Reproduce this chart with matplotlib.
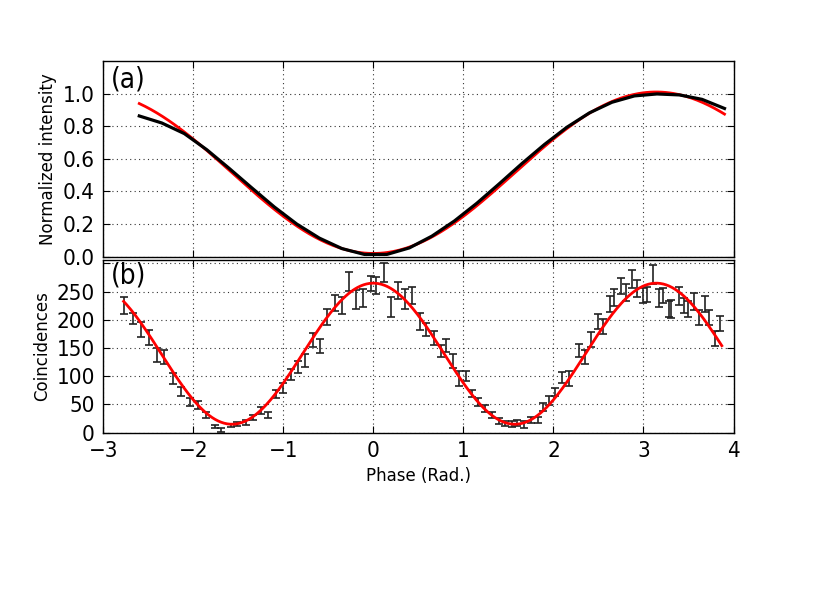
import numpy as np
import matplotlib
matplotlib.use('Agg')
from matplotlib import pyplot as plt

# (a) measured intensity (black) and model (red)
phase_a = [-2.6, -2.35, -2.1, -1.85, -1.6, -1.35, -1.1, -0.85, -0.6, -0.35, -0.1,
           0.15, 0.4, 0.65, 0.9, 1.15, 1.4, 1.65, 1.9, 2.15, 2.4, 2.65, 2.9, 3.15,
           3.4, 3.65, 3.9]
intensity = [0.863, 0.820, 0.755, 0.656, 0.541, 0.422, 0.305, 0.200, 0.114, 0.050,
             0.014, 0.014, 0.054, 0.126, 0.219, 0.328, 0.448, 0.571, 0.688, 0.794,
             0.882, 0.947, 0.986, 0.998, 0.992, 0.965, 0.909]
model_offset, model_amp = 0.02, 0.99

# (b) coincidence counts with error bars
phase_b = [-2.774, -2.667, -2.58, -2.49, -2.40, -2.32, -2.22, -2.14, -2.04, -1.95,
           -1.86, -1.76, -1.69, -1.58, -1.51, -1.41, -1.34, -1.25, -1.165, -1.084,
           -1.0, -0.92, -0.84, -0.755, -0.674, -0.593, -0.51, -0.425, -0.35, -0.27,
           -0.194, -0.11, -0.03, 0.033, 0.117, 0.198, 0.278, 0.352, 0.425, 0.516,
           0.587, 0.673, 0.747, 0.803, 0.885, 0.952, 1.026, 1.10, 1.167, 1.24,
           1.316, 1.39, 1.465, 1.54, 1.60, 1.677, 1.75, 1.825, 1.888, 1.955,
           2.022, 2.097, 2.17, 2.285, 2.35, 2.42, 2.49, 2.556, 2.626, 2.674,
           2.748, 2.804, 2.87, 2.933, 2.99, 3.04, 3.11, 3.175, 3.22, 3.28,
           3.31, 3.39, 3.445, 3.50, 3.56, 3.62, 3.68, 3.73, 3.79, 3.85]
counts = [226, 202, 183, 168, 138, 134, 96, 73, 55, 49,
          32, 11, 5, 13, 15, 18, 27, 40, 31.5, 69,
          80, 103, 116, 128, 164, 154, 205, 230, 225.5, 268,
          235.6, 239, 265, 260.6, 284, 222.5, 251.6, 237, 243, 197,
          183, 168, 145, 155, 127, 96, 101, 69.6, 55, 43,
          31, 21, 16, 15.5, 17, 14, 22, 22.6, 46, 57,
          72, 98, 96, 146, 134, 165, 197, 188, 228, 240,
          260, 249, 272, 255, 243, 245, 281, 239, 243, 219,
          219, 242, 225, 220, 232, 204, 228, 204.6, 167, 193]
errors = [14.9, 9.5, 13.1, 13.4, 12.5, 11.9, 9.2, 8.0, 7.1, 7.1,
          5.4, 3, 3, 3, 3.9, 4.2, 4.5, 6, 4.8, 7.4,
          8.9, 9.8, 10.7, 10.7, 11.9, 12.5, 13.4, 14.3, 14.3, 16.4,
          16.4, 15.8, 13.4, 14.9, 16.4, 17.3, 14.9, 17.3, 15.5, 14.3,
          11.3, 12.5, 10.4, 11.9, 11.9, 12.5, 8.9, 6.8, 7.1, 6.5,
          5.4, 5, 3.9, 4.5, 4.8, 6, 5, 6, 6.8, 7.4,
          7.4, 9.8, 13.4, 11.9, 11.9, 13.7, 13.4, 13.4, 14.9, 14.9,
          14.3, 14.9, 15.5, 14.9, 13.3, 12.7, 16.8, 15.4, 13.3, 13.9,
          15.7, 15.7, 13.3, 14.2, 14.8, 13.9, 14.8, 13.3, 13.6, 13.3]
fit_offset, fit_amp = 140, 125

plt.rcParams['font.family'] = ['DejaVu Sans']
plt.rcParams['font.stretch'] = 'condensed'

fig = plt.figure(figsize=(8.15, 6.15), dpi=100)
ax1 = fig.add_axes([0.1267, 0.5826, 0.7733, 0.3182])
ax2 = fig.add_axes([0.1267, 0.2964, 0.7733, 0.2808])

xa = np.linspace(phase_a[0], phase_a[-1], 300)
ax1.plot(xa, model_offset + model_amp * (1 - np.cos(xa)) / 2, color='red', lw=2)
ax1.plot(phase_a, intensity, color='black', lw=2.3)
ax1.set_xlim(-3, 4)
ax1.set_ylim(0, 1.2)
ax1.set_yticks([0.0, 0.2, 0.4, 0.6, 0.8, 1.0])
ax1.set_yticklabels(['0.0', '0.2', '0.4', '0.6', '0.8', '1.0'])
ax1.set_xticklabels([])
ax1.set_ylabel('Normalized intensity', fontsize=12, fontstretch='normal')
ax1.text(0.012, 0.975, '(a)', transform=ax1.transAxes, fontsize=20, va='top', ha='left')

ax2.errorbar(phase_b, counts, yerr=errors, fmt='none', ecolor='#222222',
             elinewidth=1.2, capsize=2.8, capthick=1.2)
xb = np.linspace(phase_b[0], 3.87, 400)
ax2.plot(xb, fit_offset + fit_amp * np.cos(2 * xb), color='red', lw=2)
ax2.set_xlim(-3, 4)
ax2.set_ylim(0, 306)
ax2.set_yticks([0, 50, 100, 150, 200, 250, 300])
ax2.set_yticklabels(['0', '50', '100', '150', '200', '250', ''])
ax2.set_xlabel('Phase (Rad.)', fontsize=12, fontstretch='normal')
ax2.set_ylabel('Coincidences', fontsize=12, fontstretch='normal')
ax2.text(0.012, 0.99, '(b)', transform=ax2.transAxes, fontsize=20, va='top', ha='left')

for ax in (ax1, ax2):
    ax.set_xticks(range(-3, 5))
    ax.grid(True, color='#333333', linestyle=(0, (1, 3)), linewidth=0.8)
    ax.tick_params(direction='in', top=True, right=True, labelsize=16, length=5, pad=6)
    for s in ax.spines.values():
        s.set_linewidth(1.0)
ax2.set_xticklabels(['\u22123', '\u22122', '\u22121', '0', '1', '2', '3', '4'])

fig.savefig('out.png', dpi=100)
